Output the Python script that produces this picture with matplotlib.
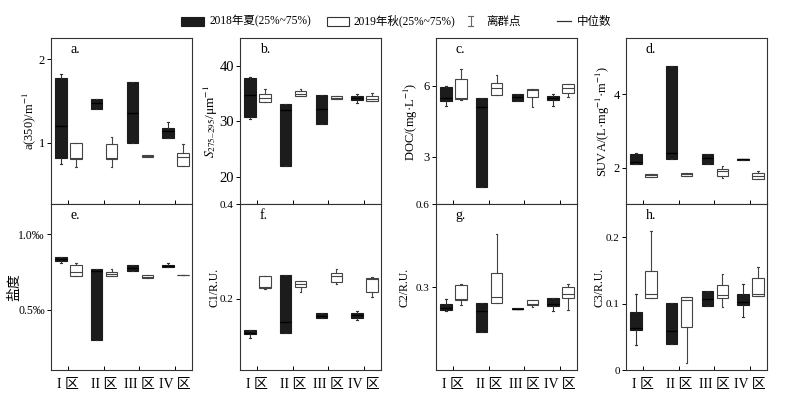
import matplotlib
matplotlib.use("Agg")
import matplotlib.pyplot as plt
from matplotlib.patches import Rectangle
from matplotlib.lines import Line2D

plt.rcParams['font.family'] = ['Liberation Serif', 'Noto Sans CJK SC', 'DejaVu Sans']
plt.rcParams['mathtext.fontset'] = 'stix'
plt.rcParams['axes.unicode_minus'] = False

zones = ["I 区", "II 区", "III 区", "IV 区"]
series_names = ["2018年夏(25%~75%)", "2019年秋(25%~75%)"]
extra_names = ["离群点", "中位数"]

# each tuple: (whisker low, Q1, median, Q3, whisker high)
a350_2018 = [(0.74, 0.81, 1.20, 1.77, 1.82), (1.40, 1.40, 1.47, 1.52, 1.52),
             (1.00, 1.00, 1.36, 1.73, 1.73), (1.06, 1.06, 1.14, 1.18, 1.25)]
a350_2019 = [(0.71, 0.80, 0.82, 1.00, 1.00), (0.71, 0.80, 0.82, 0.98, 1.07),
             (0.83, 0.83, 0.84, 0.85, 0.85), (0.72, 0.72, 0.83, 0.87, 0.98)]
s_2018 = [(30.5, 30.7, 34.8, 37.8, 38.0), (22.0, 22.0, 32.0, 33.1, 33.1),
          (29.5, 29.5, 32.2, 34.8, 34.8), (33.3, 33.9, 34.2, 34.5, 35.0)]
s_2019 = [(33.4, 33.4, 34.3, 34.9, 35.8), (34.5, 34.5, 35.0, 35.5, 35.8),
          (34.1, 34.1, 34.3, 34.5, 34.5), (33.7, 33.7, 34.1, 34.5, 35.2)]
doc_2018 = [(5.13, 5.37, 5.48, 5.95, 6.00), (1.74, 1.74, 5.10, 5.48, 5.48),
            (5.34, 5.34, 5.51, 5.65, 5.65), (5.16, 5.38, 5.47, 5.55, 5.65)]
doc_2019 = [(5.40, 5.45, 5.50, 6.28, 6.70), (5.59, 5.59, 5.90, 6.11, 6.46),
            (5.10, 5.52, 5.83, 5.87, 5.87), (5.51, 5.69, 5.90, 6.07, 6.07)]
suva_2018 = [(2.09, 2.09, 2.15, 2.38, 2.40), (2.23, 2.23, 2.40, 4.77, 4.77),
             (2.09, 2.09, 2.25, 2.38, 2.38), (2.21, 2.21, 2.22, 2.23, 2.23)]
suva_2019 = [(1.74, 1.74, 1.80, 1.83, 1.83), (1.78, 1.78, 1.82, 1.85, 1.85),
             (1.72, 1.76, 1.90, 1.97, 2.05), (1.68, 1.68, 1.77, 1.85, 1.90)]
sal_2018 = [(0.810, 0.826, 0.835, 0.848, 0.848), (0.297, 0.297, 0.757, 0.769, 0.769),
            (0.757, 0.757, 0.780, 0.800, 0.800), (0.786, 0.786, 0.793, 0.800, 0.810)]
sal_2019 = [(0.726, 0.726, 0.749, 0.797, 0.810), (0.726, 0.726, 0.740, 0.749, 0.770),
            (0.709, 0.709, 0.720, 0.731, 0.731), (0.729, 0.729, 0.731, 0.733, 0.733)]
c1_2018 = [(0.118, 0.125, 0.128, 0.135, 0.135), (0.128, 0.128, 0.152, 0.250, 0.250),
           (0.160, 0.160, 0.165, 0.171, 0.171), (0.155, 0.160, 0.166, 0.171, 0.174)]
c1_2019 = [(0.221, 0.224, 0.226, 0.249, 0.249), (0.214, 0.225, 0.232, 0.237, 0.237),
           (0.232, 0.236, 0.249, 0.255, 0.263), (0.204, 0.214, 0.242, 0.245, 0.247)]
c2_2018 = [(0.215, 0.217, 0.225, 0.238, 0.258), (0.138, 0.138, 0.214, 0.244, 0.244),
           (0.221, 0.221, 0.222, 0.223, 0.223), (0.214, 0.230, 0.240, 0.259, 0.259)]
c2_2019 = [(0.234, 0.252, 0.258, 0.306, 0.312), (0.241, 0.241, 0.264, 0.352, 0.492),
           (0.228, 0.234, 0.238, 0.253, 0.253), (0.217, 0.259, 0.274, 0.301, 0.312)]
c3_2018 = [(0.038, 0.061, 0.063, 0.088, 0.114), (0.039, 0.039, 0.059, 0.101, 0.101),
           (0.096, 0.096, 0.107, 0.119, 0.119), (0.080, 0.098, 0.102, 0.115, 0.130)]
c3_2019 = [(0.109, 0.109, 0.114, 0.149, 0.209), (0.011, 0.065, 0.106, 0.110, 0.110),
           (0.095, 0.109, 0.113, 0.128, 0.145), (0.111, 0.111, 0.115, 0.139, 0.155)]

panels = [
    ("a.", a350_2018, a350_2019, (0.26, 2.25), [1, 2], ["1", "2"], "a(350)/m$^{-1}$"),
    ("b.", s_2018, s_2019, (15, 45), [20, 30, 40], ["20", "30", "40"], "$S_{275\u2013295}$/μm$^{-1}$"),
    ("c.", doc_2018, doc_2019, (1.0, 8.0), [3, 6], ["3", "6"], "DOC/(mg·L$^{-1}$)"),
    ("d.", suva_2018, suva_2019, (1.0, 5.52), [2, 4], ["2", "4"], "SUVA/(L·mg$^{-1}$·m$^{-1}$)"),
    ("e.", sal_2018, sal_2019, (0.10, 1.20), [0.5, 1.0], ["0.5‰", "1.0‰"], "盐度"),
    ("f.", c1_2018, c1_2019, (0.05, 0.40), [0.2, 0.4], ["0.2", "0.4"], "C1/R.U."),
    ("g.", c2_2018, c2_2019, (0.0, 0.60), [0.3, 0.6], ["0.3", "0.6"], "C2/R.U."),
    ("h.", c3_2018, c3_2019, (0.0, 0.25), [0, 0.1, 0.2], ["0", "0.1", "0.2"], "C3/R.U."),
]
label_x = [-0.156, -0.205, -0.177, -0.163, -0.26, -0.18, -0.22, -0.185]
label_fs = [9, 9.5, 9, 9, 10, 8.5, 8.5, 8.5]
tick_fs = [9, 10.5, 9, 9, 8.5, 8, 8, 8]

W, H = 788, 398
fig = plt.figure(figsize=(W / 100, H / 100), dpi=100)
col_x = [51, 240, 436, 626]
aw = 141
rows = [(38.3, 204.3), (204.3, 370)]

def stats_from(tuples):
    out = []
    for lo, q1, med, q3, hi in tuples:
        out.append(dict(whislo=lo, q1=q1, med=med, q3=q3, whishi=hi, fliers=[]))
    return out

pos = [1, 2, 3, 4]
for i, (tag, s18, s19, ylim, yt, ytl, ylab) in enumerate(panels):
    r, c = divmod(i, 4)
    top, bot = rows[r]
    ax = fig.add_axes([col_x[c] / W, 1 - bot / H, aw / W, (bot - top) / H])
    ax.bxp(stats_from(s18), positions=[p - 0.2 for p in pos], widths=0.32,
           patch_artist=True, showfliers=False,
           boxprops=dict(facecolor="#1c1c1c", edgecolor="#1c1c1c", linewidth=0.8),
           medianprops=dict(color="#000000", linewidth=1.0),
           whiskerprops=dict(color="#333333", linewidth=0.8),
           capprops=dict(color="#333333", linewidth=0.8), capwidths=0.04)
    ax.bxp(stats_from(s19), positions=[p + 0.22 for p in pos], widths=0.32,
           patch_artist=True, showfliers=False,
           boxprops=dict(facecolor="white", edgecolor="#444444", linewidth=0.8),
           medianprops=dict(color="#444444", linewidth=0.8),
           whiskerprops=dict(color="#444444", linewidth=0.8),
           capprops=dict(color="#444444", linewidth=0.8), capwidths=0.04)
    ax.set_xlim(0.526, 4.47)
    ax.set_ylim(*ylim)
    ax.set_yticks(yt)
    ax.set_yticklabels(ytl, fontsize=tick_fs[i])
    ax.set_xticks(pos)
    if r == 1:
        ax.set_xticklabels(zones, fontsize=10)
    else:
        ax.set_xticklabels([])
    ax.tick_params(axis="x", direction="in", length=3, width=0.7, pad=6)
    ax.tick_params(axis="y", direction="out", length=3, width=0.7, pad=1.5)
    for sp in ax.spines.values():
        sp.set_linewidth(0.8)
        sp.set_color("#333333")
    ax.set_ylabel(ylab, fontsize=label_fs[i], va="center")
    ax.yaxis.set_label_coords(label_x[i], 0.5)
    ax.text(0.14, 0.93, tag, transform=ax.transAxes, fontsize=10, va="center", ha="left")

# legend drawn in figure pixel coordinates (top-left origin)
def fx(x):
    return x / W

def fy(y):
    return 1 - y / H

leg_fs = 8.3
fig.patches.append(Rectangle((fx(181), fy(25.7)), 23 / W, 9 / H, transform=fig.transFigure,
                             facecolor="#1c1c1c", edgecolor="#1c1c1c", lw=0.8))
fig.text(fx(209), fy(21), series_names[0], fontsize=leg_fs, va="center", ha="left")
fig.patches.append(Rectangle((fx(326.5), fy(25.7)), 22.5 / W, 9 / H, transform=fig.transFigure,
                             facecolor="white", edgecolor="#333333", lw=0.8))
fig.text(fx(354), fy(21), series_names[1], fontsize=leg_fs, va="center", ha="left")
for seg in [((470.5, 470.5), (16, 25.5)), ((467.5, 473.5), (16, 16)), ((467.5, 473.5), (25.5, 25.5))]:
    fig.lines.append(Line2D([fx(v) for v in seg[0]], [fy(v) for v in seg[1]],
                            transform=fig.transFigure, color="#666666", lw=0.8))
fig.text(fx(486), fy(21.5), extra_names[0], fontsize=leg_fs, va="center", ha="left")
fig.lines.append(Line2D([fx(557), fx(571)], [fy(20.5), fy(20.5)], transform=fig.transFigure,
                        color="#333333", lw=0.9))
fig.text(fx(577), fy(21.5), extra_names[1], fontsize=leg_fs, va="center", ha="left")

fig.savefig("out.png", dpi=100)
